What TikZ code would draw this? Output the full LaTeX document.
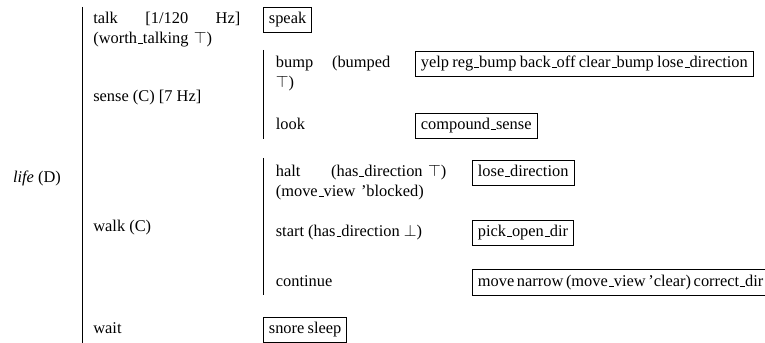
\documentclass[tikz,border=0pt]{standalone}
\usepackage{amsmath}
\usepackage{amssymb}
\usepackage{fontspec}
\setmainfont{Liberation Serif}
\usepackage{tikz}

\newcommand{\usc}{\leavevmode\kern.06em\vbox{\hrule width.3em}}
\tikzset{
  lbl/.style={anchor=base west, inner sep=0pt},
  wide/.style={lbl, align=left, text width=#1},
  act/.style={draw, line width=0.5pt, anchor=base west, inner sep=3.33pt, text height=7pt, text depth=2pt,
    execute at begin node={\spaceskip=.2em plus .1em\relax}},
  tight/.style={execute at begin node={\spaceskip=.16em plus .1em\relax}},
}

\begin{document}
\begin{tikzpicture}
    \useasboundingbox (0, 0) rectangle (16.395, 7.351) ;
\coordinate (lifetop) at (1.772, 7.201) ; % life.top
\coordinate (lifebot) at (1.772, 0) ; % life.bottom
\coordinate (sensetop) at (5.637, 6.280) ; % sense.top
\coordinate (sensebot) at (5.637, 4.372) ; % sense.bottom
\coordinate (walktop) at (5.637, 3.965) ; % walk.top
\coordinate (walkbot) at (5.637, 1.029) ; % walk.bottom
\node[lbl] (life) at (0.272, 3.436) {\textit{life} (D)} ; % life
\node[wide=3.150cm] (talk) at (1.993, 6.837) {talk\hfill[1/120\hfill Hz]\\(worth\usc talking $\top$)} ; % talk
\node[lbl] (sense) at (1.993, 5.165) {sense (C) [7 Hz]} ; % sense
\node[lbl] (walk) at (1.993, 2.379) {walk (C)} ; % walk
\node[lbl] (wait) at (1.993, 0.193) {wait} ; % wait
\node[wide=2.454cm] (bump) at (5.905, 5.894) {bump\hfill(bumped\\$\top$)} ; % bump
\node[lbl] (look) at (5.905, 4.565) {look} ; % look
\node[wide=3.654cm] (halt) at (5.905, 3.558) {halt\hfill(has\usc direction $\top$)\\(move\usc view 'blocked)} ; % halt
\node[lbl] (start) at (5.905, 2.272) {start (has\usc direction $\bot$)} ; % start
\node[lbl] (continue) at (5.905, 1.211) {continue} ; % continue
\node[act] (speak) at (5.637, 6.837) {speak} ; % speak
\node[act] (yelp) at (8.894, 5.894) {yelp reg\usc bump back\usc off clear\usc bump lose\usc direction} ; % bump.act
\node[act] (compound) at (8.894, 4.565) {compound\usc sense} ; % look.act
\node[act] (losedir) at (10.116, 3.558) {lose\usc direction} ; % halt.act
\node[act] (pickdir) at (10.116, 2.272) {pick\usc open\usc dir} ; % start.act
\node[act, tight] (movebox) at (10.116, 1.211) {move narrow (move\usc view 'clear) correct\usc dir} ; % continue.act
\node[act] (snore) at (5.637, 0.193) {snore sleep} ; % wait.act
\draw[line width=0.5pt] (lifetop) -- (lifebot) ; % life
\draw[line width=0.5pt] (sensetop) -- (sensebot) ; % sense
\draw[line width=0.5pt] (walktop) -- (walkbot) ; % walk
    \end{tikzpicture}
\end{document}
